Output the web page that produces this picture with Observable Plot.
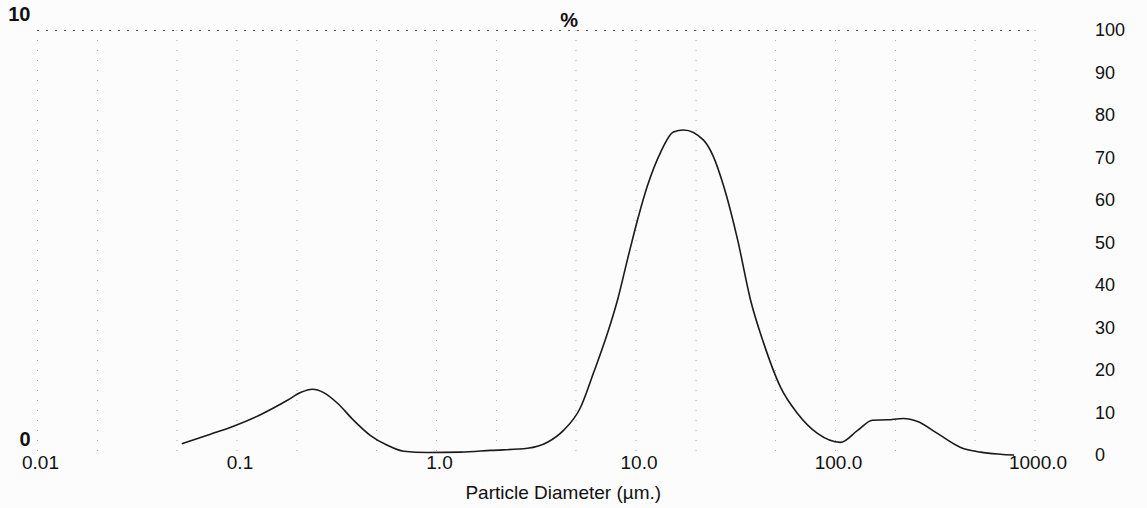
<!DOCTYPE html>
<html>
<head>
<meta charset="utf-8">
<script src="https://cdn.jsdelivr.net/npm/d3@7"></script>
<script src="https://cdn.jsdelivr.net/npm/@observablehq/plot@0.6"></script>
<style>
  html, body { margin: 0; padding: 0; background: #fcfcfc; }
  #chart svg { display: block; }
</style>
</head>
<body>
<div id="chart"></div>
<script>
// Particle diameter (µm) and volume distribution (read on the right-hand 0–100 scale)
const diameters = [0.0533, 0.0736, 0.096, 0.131, 0.179, 0.208, 0.239, 0.272, 0.319, 0.384, 0.467, 0.567, 0.684, 0.90, 1.32, 1.87, 2.86, 3.60, 4.33, 5.27, 6.12, 7.20, 8.08, 9.06, 10.2, 11.4, 13.3, 15.4, 17.3, 21.8, 24.4, 27.5, 32.3, 37.5, 43.6, 53.0, 64.5, 81.2, 106, 129, 153, 182, 219, 258, 324, 424, 533, 671, 780];
const volumes   = [2.8, 5.0, 6.9, 9.6, 13.0, 14.8, 15.6, 14.8, 12.3, 8.3, 4.7, 2.4, 1.0, 0.7, 0.8, 1.2, 1.7, 3.1, 5.9, 11.3, 19.4, 28.8, 36.6, 46.1, 55.6, 63.4, 71.4, 76.1, 76.6, 74.2, 70.4, 63.4, 50.8, 36.6, 26.5, 16.1, 9.9, 5.2, 3.1, 5.9, 8.3, 8.4, 8.7, 8.0, 5.2, 1.9, 0.8, 0.3, 0.1];

const xTicks = [0.01, 0.1, 1, 10, 100, 1000];
const xTickLabels = ["0.01", "0.1", "1.0", "10.0", "100.0", "1000.0"];
const gridX = [0.01, 0.02, 0.05, 0.1, 0.2, 0.5, 1, 2, 5, 10, 20, 50, 100, 200, 500, 1000];
const leftTicks = [0, 100];
const rightTicks = [0, 10, 20, 30, 40, 50, 60, 70, 80, 90, 100];
const xLabel = "Particle Diameter (µm.)";
const topLabel = "%";

const data = diameters.map((d, i) => ({d, v: volumes[i]}));
const xLabelMap = new Map(xTicks.map((t, i) => [t, xTickLabels[i]]));

const chart = Plot.plot({
  width: 1147,
  height: 508,
  marginLeft: 37,
  marginRight: 112.5,
  marginTop: 30,
  marginBottom: 53,
  style: {fontFamily: "'Liberation Sans', Arial, sans-serif", fontSize: "19px", background: "transparent", color: "#111"},
  x: {type: "log", domain: [0.01, 1000]},
  y: {domain: [0, 100]},
  marks: [
    Plot.ruleX(gridX, {stroke: "#888", strokeDasharray: "1,9", strokeOpacity: 0.7}),
    Plot.ruleY([100], {stroke: "#555", strokeDasharray: "2,7", strokeWidth: 1.2}),
    Plot.line(data, {x: "d", y: "v", curve: "monotone-x", stroke: "#1a1a1a", strokeWidth: 1.6}),
    Plot.axisX(xTicks, {tickSize: 0, tickPadding: 0, dx: 3, tickFormat: d => xLabelMap.get(d), fontSize: 19, label: null}),
    Plot.axisY(leftTicks, {anchor: "left", tickSize: 0, tickPadding: 7, dy: -16, tickFormat: d => d / 10, fontSize: 20, fontWeight: "bold", label: null}),
    Plot.axisY(rightTicks, {anchor: "right", tickSize: 0, tickPadding: 60, textAnchor: "start", fontSize: 18, label: null}),
    Plot.text([topLabel], {frameAnchor: "top", lineAnchor: "middle", dx: 33, dy: -10, fontSize: 20, fontWeight: "bold"}),
    Plot.text([xLabel], {frameAnchor: "bottom", lineAnchor: "middle", dx: 27, dy: 37, fontSize: 19})
  ]
});
document.getElementById("chart").appendChild(chart);
</script>
</body>
</html>
